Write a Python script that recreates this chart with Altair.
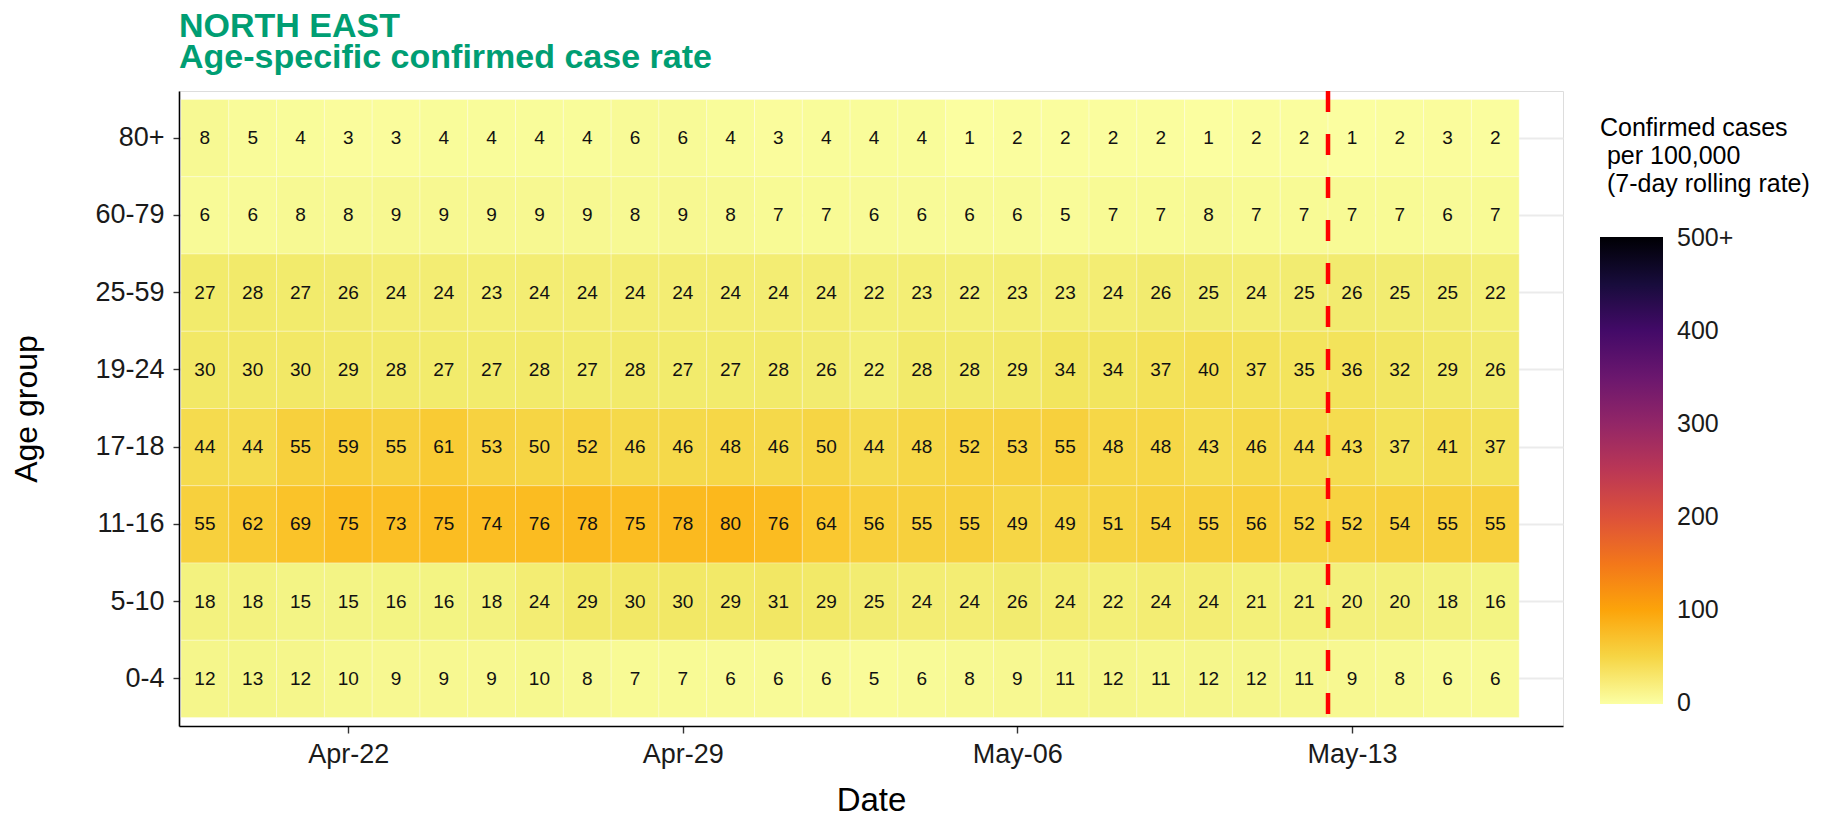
import altair as alt
import pandas as pd

dates = [
    "2021-04-19", "2021-04-20", "2021-04-21", "2021-04-22", "2021-04-23", "2021-04-24", "2021-04-25",
    "2021-04-26", "2021-04-27", "2021-04-28", "2021-04-29", "2021-04-30", "2021-05-01", "2021-05-02",
    "2021-05-03", "2021-05-04", "2021-05-05", "2021-05-06", "2021-05-07", "2021-05-08", "2021-05-09",
    "2021-05-10", "2021-05-11", "2021-05-12", "2021-05-13", "2021-05-14", "2021-05-15", "2021-05-16",
]

age_groups = ["80+", "60-79", "25-59", "19-24", "17-18", "11-16", "5-10", "0-4"]

rate_80p = [8, 5, 4, 3, 3, 4, 4, 4, 4, 6, 6, 4, 3, 4, 4, 4, 1, 2, 2, 2, 2, 1, 2, 2, 1, 2, 3, 2]
rate_60_79 = [6, 6, 8, 8, 9, 9, 9, 9, 9, 8, 9, 8, 7, 7, 6, 6, 6, 6, 5, 7, 7, 8, 7, 7, 7, 7, 6, 7]
rate_25_59 = [27, 28, 27, 26, 24, 24, 23, 24, 24, 24, 24, 24, 24, 24, 22, 23, 22, 23, 23, 24, 26, 25, 24, 25, 26, 25, 25, 22]
rate_19_24 = [30, 30, 30, 29, 28, 27, 27, 28, 27, 28, 27, 27, 28, 26, 22, 28, 28, 29, 34, 34, 37, 40, 37, 35, 36, 32, 29, 26]
rate_17_18 = [44, 44, 55, 59, 55, 61, 53, 50, 52, 46, 46, 48, 46, 50, 44, 48, 52, 53, 55, 48, 48, 43, 46, 44, 43, 37, 41, 37]
rate_11_16 = [55, 62, 69, 75, 73, 75, 74, 76, 78, 75, 78, 80, 76, 64, 56, 55, 55, 49, 49, 51, 54, 55, 56, 52, 52, 54, 55, 55]
rate_5_10 = [18, 18, 15, 15, 16, 16, 18, 24, 29, 30, 30, 29, 31, 29, 25, 24, 24, 26, 24, 22, 24, 24, 21, 21, 20, 20, 18, 16]
rate_0_4 = [12, 13, 12, 10, 9, 9, 9, 10, 8, 7, 7, 6, 6, 6, 5, 6, 8, 9, 11, 12, 11, 12, 12, 11, 9, 8, 6, 6]

rates = [rate_80p, rate_60_79, rate_25_59, rate_19_24, rate_17_18, rate_11_16, rate_5_10, rate_0_4]

tick_dates = ["2021-04-22", "2021-04-29", "2021-05-06", "2021-05-13"]
cutoff = ["2021-05-12T12:00:00Z"]
legend_values = [0, 100, 200, 300, 400, 500]
color_domain = [-1, 501]

rows = []
for age, vals in zip(age_groups, rates):
    for d, v in zip(dates, vals):
        rows.append({"date": d, "age": age, "rate": v})
df = pd.DataFrame(rows)

FONT = "Liberation Sans"

xscale = alt.Scale(
    type="utc",
    domain=[
        alt.DateTime(year=2021, month=4, date=18, hours=11, utc=True),
        alt.DateTime(year=2021, month=5, date=17, hours=10, utc=True),
    ],
)

def ymd(s):
    y, m, d = s.split("-")
    return alt.DateTime(year=int(y), month=int(m), date=int(d), utc=True)

xaxis = alt.Axis(
    title="Date",
    values=[ymd(s) for s in tick_dates],
    format="%b-%d",
    labelFontSize=27,
    labelFont=FONT,
    labelColor="#1a1a1a",
    labelPadding=8,
    tickSize=7,
    tickColor="#333333",
    tickWidth=1.4,
    domainColor="#000000",
    domainWidth=1.6,
    grid=False,
    titleFontSize=33,
    titleFont=FONT,
    titleFontWeight="normal",
    titleColor="#000000",
    titlePadding=17,
    zindex=0,
)

yaxis = alt.Axis(
    title="Age group",
    labelFontSize=27,
    labelFont=FONT,
    labelColor="#1a1a1a",
    labelPadding=9,
    tickSize=6,
    tickColor="#333333",
    tickWidth=1.4,
    domainColor="#000000",
    domainWidth=1.6,
    grid=True,
    gridColor="#ebebeb",
    gridWidth=2,
    titleFontSize=32,
    titleFont=FONT,
    titleFontWeight="normal",
    titleColor="#000000",
    titlePadding=51,
    zindex=0,
)

yscale = alt.Scale(paddingInner=0, paddingOuter=0.11)

color = alt.Color(
    "rate:Q",
    scale=alt.Scale(scheme="inferno", reverse=True, domain=color_domain, clamp=True),
    legend=alt.Legend(
        title=["Confirmed cases", "\u200b\u00a0per 100,000", "\u200b\u00a0(7-day rolling rate)"],
        orient="none",
        legendX=1421,
        legendY=25,
        direction="vertical",
        gradientLength=467,
        gradientThickness=63,
        values=legend_values,
        labelExpr="datum.value >= 500 ? '500+' : datum.label",
        labelFontSize=25,
        labelFont=FONT,
        labelColor="#1a1a1a",
        labelOffset=14,
        labelBaseline="middle",
        titleFontSize=25,
        titleFont=FONT,
        titleFontWeight="normal",
        titleColor="#000000",
        titleLineHeight=28,
        titlePadding=40,
        titleLimit=400,
        gradientStrokeWidth=0,
    ),
)

base = alt.Chart(df).transform_calculate(
    start="toDate(datum.date) - 43200000",
    end="toDate(datum.date) + 43200000",
    mid="toDate(datum.date)",
)

tiles = base.mark_rect(stroke="white", strokeWidth=0.6, strokeOpacity=0.5, opacity=1).encode(
    x=alt.X("start:T", scale=xscale, axis=xaxis),
    x2="end:T",
    y=alt.Y("age:N", sort=age_groups, scale=yscale, axis=yaxis),
    color=color,
)

labels = base.mark_text(fontSize=19, font=FONT, color="#111111").encode(
    x=alt.X("mid:T", scale=xscale),
    y=alt.Y("age:N", sort=age_groups),
    text="rate:Q",
)

rule = alt.Chart(pd.DataFrame({"cut": cutoff})).mark_rule(
    color="#ff0000", strokeWidth=4.5, strokeDash=[21, 22]
).encode(x=alt.X("cut:T", scale=xscale))

chart = alt.layer(tiles, labels, rule).properties(
    width=1384,
    height=635,
    title=alt.TitleParams(
        text=["NORTH EAST", "Age-specific confirmed case rate"],
        anchor="start",
        frame="group",
        color="#009E73",
        fontSize=34,
        font=FONT,
        fontWeight="bold",
        lineHeight=31,
        offset=14,
    ),
    padding={"left": 171, "top": 83, "right": 265, "bottom": 90},
    autosize=alt.AutoSizeParams(type="none"),
).configure_view(stroke=None).configure(background="white")

chart.save("out.html", embed_options={"renderer": "svg", "actions": False})
